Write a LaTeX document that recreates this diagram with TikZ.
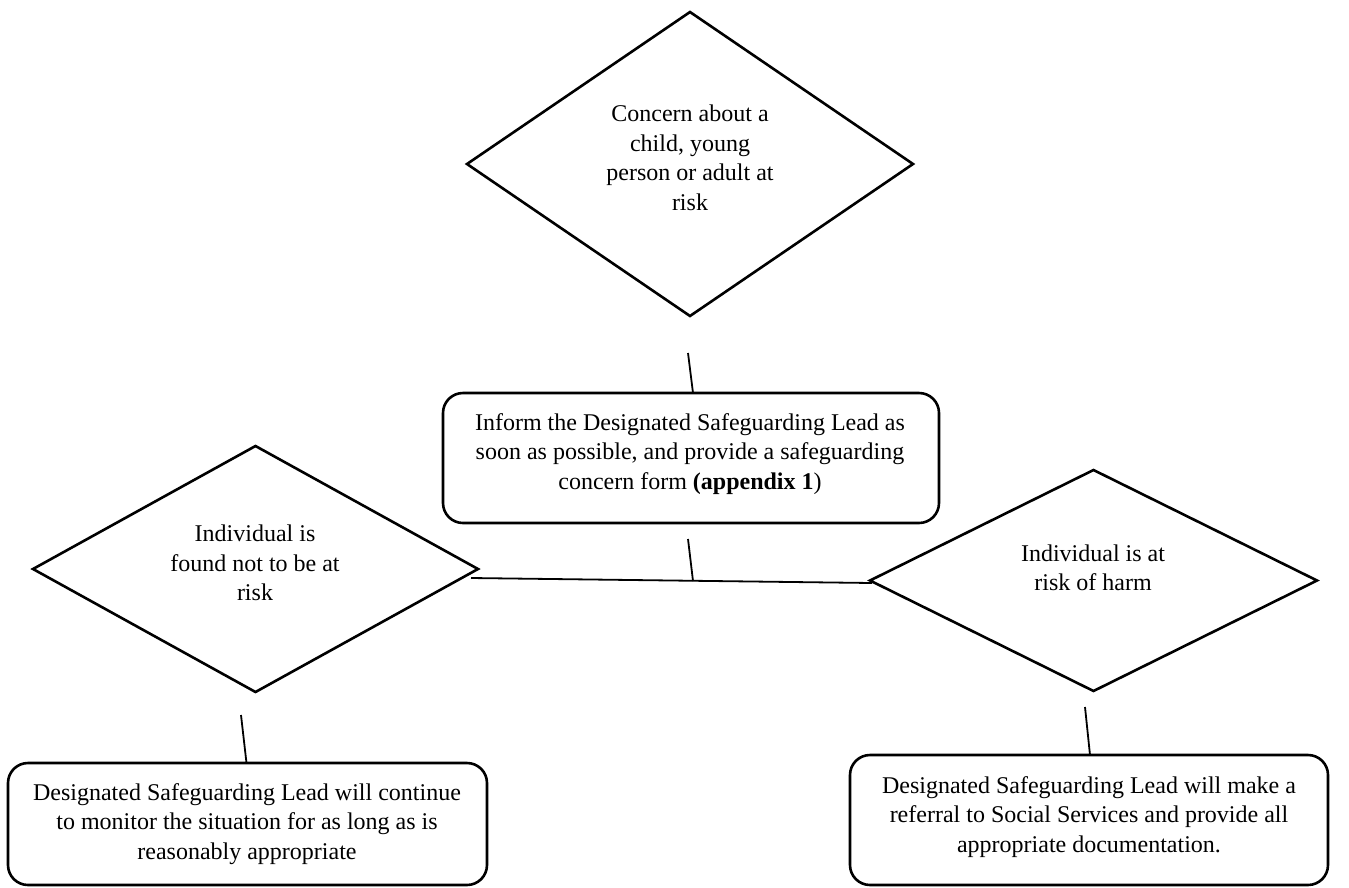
\documentclass[tikz,border=0pt]{standalone}
\usepackage{fontspec}
\setmainfont{Liberation Serif}
\usetikzlibrary{shapes.geometric}
\begin{document}
\begin{tikzpicture}[x=1pt,y=-1pt,
  dia/.style={draw, line width=2.6pt, diamond, inner sep=0pt, outer sep=0pt},
  rbox/.style={draw, line width=2.6pt, rectangle, rounded corners=20pt, inner sep=0pt, outer sep=0pt},
  txt/.style={align=center, inner sep=0pt, font=\fontsize{24}{29.5}\selectfont},
  conn/.style={draw, line width=1.8pt}]
\useasboundingbox (0,0) rectangle (1349,887);

% shapes
\node[dia, minimum width=446pt, minimum height=304pt] (top) at (690,164) {};
\node[rbox, minimum width=496pt, minimum height=130pt] (mid) at (691,458) {};
\node[dia, minimum width=445pt, minimum height=246pt] (ld) at (255.5,569) {};
\node[dia, minimum width=447pt, minimum height=221pt] (rd) at (1093.5,580.5) {};
\node[rbox, minimum width=479pt, minimum height=122pt] (lb) at (247.5,824) {};
\node[rbox, minimum width=478pt, minimum height=130pt] (rb) at (1089,820) {};

% texts
\node[txt] (ttop) at (690,158) {Concern about a\\child, young\\person or adult at\\risk};
\node[txt] (tmid) at (690,454) {Inform the Designated Safeguarding Lead as\\soon as possible, and provide a safeguarding\\concern form \textbf{(appendix 1})};
\node[txt] (tld) at (255,563) {Individual is\\found not to be at\\risk};
\node[txt] (trd) at (1093,568) {Individual is at\\risk of harm};
\node[txt] (tlb) at (247,824) {Designated Safeguarding Lead will continue\\to monitor the situation for as long as is\\reasonably appropriate};
\node[txt] (trb) at (1089,817) {Designated Safeguarding Lead will make a\\referral to Social Services and provide all\\appropriate documentation.};

% connector ends
\coordinate (a1) at (688,353);
\coordinate (a2) at (688,539);
\coordinate (h1) at (471,578);
\coordinate (h2) at (872,583);
\coordinate (a2e) at (693,581);
\coordinate (a3) at (241,715);
\coordinate (a4) at (1085,707);

% connectors
\draw[conn] (a1) -- ([xshift=2pt]mid.north);
\draw[conn] (a2) -- (a2e);
\draw[conn] (h1) -- (h2);
\draw[conn] (a3) -- ([xshift=-1pt]lb.north);
\draw[conn] (a4) -- ([xshift=1pt]rb.north);
\end{tikzpicture}
\end{document}
